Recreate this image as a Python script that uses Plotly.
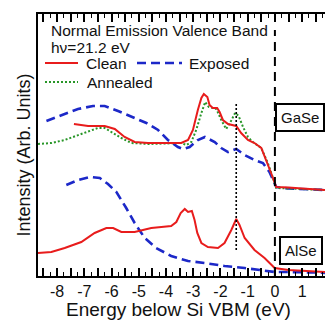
import plotly.graph_objects as go

# ---------------- data (energy in eV, intensity in arb. units) ----------------
gase_clean_e = [-7.38, -6.86, -6.25, -5.88, -5.52, -5.15, -4.66, -3.44, -3.19, -3.01, -2.83, -2.70, -2.61,
                -2.48, -2.40, -2.28, -2.12, -2.03, -1.91, -1.72, -1.42, -1.24, -0.99, -0.75, -0.50, -0.32,
                -0.14, 0.05, 0.12, 0.5, 1.0, 1.5, 1.84]
gase_clean_i = [152, 150, 150, 147, 139, 134, 133, 133, 136, 146, 166, 178, 182,
                179, 171, 168, 168, 164, 156, 152, 150, 143, 136, 133, 128, 116,
                103, 89, 89, 88.5, 87.5, 87, 86]

gase_annealed_e = [-8.70, -8.21, -7.72, -7.23, -6.86, -6.50, -6.25, -6.01, -5.64, -5.27, -4.66, -3.44,
                   -3.25, -3.07, -2.89, -2.70, -2.56, -2.43, -2.31, -2.15, -1.97, -1.79, -1.63, -1.46,
                   -1.33, -1.17, -0.99, -0.81, -0.50, -0.26, -0.07, 0.05, 0.5, 1.0, 1.5, 1.84]
gase_annealed_i = [132, 133, 136, 141, 144, 148, 148, 144, 138, 133, 132, 133,
                   131, 134, 146, 163, 174, 169, 168, 167, 156, 147, 154, 163,
                   160, 149, 139, 134, 128, 113, 98, 88, 87.5, 87, 86.5, 86]

gase_exposed_e = [-8.39, -7.84, -7.23, -6.68, -6.25, -5.76, -5.27, -4.72, -4.29, -3.93, -3.56, -3.38,
                  -3.13, -2.83, -2.57, -2.21, -1.97, -1.72, -1.42, -1.11, -0.75, -0.44, -0.20, 0.05,
                  0.5, 1.0, 1.5, 1.84]
gase_exposed_i = [155, 161, 167, 170, 170, 165, 159, 153, 146, 136, 129, 127,
                  129, 136, 139, 134, 128, 124, 127, 121, 116, 113, 104, 89,
                  87.5, 87, 86.5, 86]

alse_clean_e = [-8.70, -8.21, -7.72, -7.11, -6.62, -6.19, -5.94, -5.64, -5.15, -4.54, -4.17, -3.81,
                -3.62, -3.46, -3.31, -3.19, -3.05, -2.95, -2.85, -2.70, -2.46, -2.09, -1.85, -1.60,
                -1.42, -1.30, -1.11, -0.75, -0.38, -0.01, 0.5, 1.0, 1.5, 1.84]
alse_clean_i = [23, 24, 28, 34, 43, 48, 48, 44, 44, 48, 49, 50,
                54, 63, 67, 64, 65, 56, 43, 33, 29, 28, 33, 46,
                57, 51, 38, 26, 18, 8, 6, 5, 4.5, 4]

alse_exposed_e = [-7.66, -7.23, -6.80, -6.43, -6.13, -5.82, -5.46, -5.15, -4.78, -4.36, -3.81, -3.19,
                  -2.58, -1.85, -1.11, -0.38, 0.0, 0.5, 1.0, 1.5, 1.84]
alse_exposed_i = [91, 96, 99, 98, 92, 84, 68, 53, 38, 28, 20, 15,
                  13, 10, 8, 5, 4, 4, 4, 3.5, 3]

tick_vals = [-8.5, -8, -7.5, -7, -6.5, -6, -5.5, -5, -4.5, -4, -3.5, -3, -2.5, -2, -1.5, -1, -0.5, 0, 0.5, 1, 1.5]
tick_text = ["", "-8", "", "-7", "", "-6", "", "-5", "", "-4", "", "-3", "", "-2", "", "-1", "", "0", "", "1", ""]

vbm_energy = 0.0
marker_energy = -1.42
x_range = [-8.70, 1.84]
y_range = [0, 262]

# ---------------- styling ----------------
RED = "rgb(232,28,28)"
BLUE = "rgb(28,40,200)"
GREEN = "rgb(40,150,40)"
FONT = "Liberation Sans, Arial, sans-serif"
W, H = 325, 320
ML, MR, MT, MB = 38, 0, 14, 44
PW, PH = W - ML - MR, H - MT - MB


def px(x):
    return (x - ML) / PW


def py(y):
    return (H - MB - y) / PH


fig = go.Figure()
fig.add_trace(go.Scatter(x=gase_exposed_e, y=gase_exposed_i, mode="lines",
                         line=dict(color=BLUE, width=2.6, dash="9px,5px"), name="Exposed"))
fig.add_trace(go.Scatter(x=alse_exposed_e, y=alse_exposed_i, mode="lines",
                         line=dict(color=BLUE, width=2.6, dash="9px,5px"), name="Exposed"))
fig.add_trace(go.Scatter(x=gase_annealed_e, y=gase_annealed_i, mode="lines",
                         line=dict(color=GREEN, width=2, dash="2px,2px"), name="Annealed"))
fig.add_trace(go.Scatter(x=gase_clean_e, y=gase_clean_i, mode="lines",
                         line=dict(color=RED, width=2), name="Clean"))
fig.add_trace(go.Scatter(x=alse_clean_e, y=alse_clean_i, mode="lines",
                         line=dict(color=RED, width=2), name="Clean"))

# reference lines
fig.add_shape(type="line", x0=vbm_energy, x1=vbm_energy, y0=0, y1=246, xref="x", yref="y",
              line=dict(color="black", width=2, dash="9px,6px"))
fig.add_shape(type="line", x0=marker_energy, x1=marker_energy, y0=26, y1=174, xref="x", yref="y",
              line=dict(color="black", width=1.6, dash="2px,2px"))

# legend keys (manual)
fig.add_shape(type="line", xref="paper", yref="paper", x0=px(45), x1=px(78), y0=py(63), y1=py(63),
              line=dict(color=RED, width=2))
fig.add_shape(type="line", xref="paper", yref="paper", x0=px(137), x1=px(182), y0=py(63), y1=py(63),
              line=dict(color=BLUE, width=2.6, dash="9px,5px"))
fig.add_shape(type="line", xref="paper", yref="paper", x0=px(45), x1=px(78), y0=py(82), y1=py(82),
              line=dict(color=GREEN, width=2, dash="2px,2px"))

txt = dict(family=FONT, size=15.5, color="#111")
annos = [
    dict(text="Normal Emission Valence Band", x=px(49), y=py(30)),
    dict(text="hν=21.2 eV", x=px(49), y=py(47)),
    dict(text="Clean", x=px(84), y=py(64)),
    dict(text="Exposed", x=px(187), y=py(64)),
    dict(text="Annealed", x=px(85), y=py(82)),
]
for a in annos:
    fig.add_annotation(xref="paper", yref="paper", xanchor="left", yanchor="middle",
                       showarrow=False, font=txt, **a)

for label, cx, cy in [("GaSe", 300, 117.5), ("AlSe", 301, 250.5)]:
    fig.add_annotation(xref="paper", yref="paper", x=px(cx), y=py(cy), text=label,
                       xanchor="center", yanchor="middle", showarrow=False,
                       font=dict(family=FONT, size=15, color="#111"),
                       bordercolor="black", borderwidth=2, borderpad=4, bgcolor="white")

fig.add_annotation(xref="paper", yref="paper", x=px(178), y=py(309.5), text="Energy below Si VBM (eV)",
                   xanchor="center", yanchor="middle", showarrow=False,
                   font=dict(family=FONT, size=19, color="#111"))
fig.add_annotation(xref="paper", yref="paper", x=px(23), y=py(155.5), text="Intensity (Arb. Units)",
                   textangle=-90, xanchor="center", yanchor="middle", showarrow=False,
                   font=dict(family=FONT, size=18, color="#111"))

fig.update_layout(
    width=W, height=H, margin=dict(l=ML, r=MR, t=MT, b=MB),
    paper_bgcolor="white", plot_bgcolor="white", showlegend=False,
    xaxis=dict(range=x_range, tickmode="array", tickvals=tick_vals, ticktext=tick_text,
               ticks="inside", ticklen=8, tickwidth=1.5, tickcolor="black",
               minor=dict(ticks="inside", ticklen=4, tickwidth=1.2, dtick=0.25, tick0=0, tickcolor="black"),
               showline=True, linecolor="black", linewidth=2, mirror="ticks",
               showgrid=False, zeroline=False,
               tickfont=dict(family=FONT, size=16, color="#111")),
    yaxis=dict(range=y_range, showticklabels=False, ticks="", showline=True, linecolor="black",
               linewidth=2, mirror=False, showgrid=False, zeroline=False),
)

fig.write_html("out.html", config={"displayModeBar": False},
               post_script="document.body.style.margin='0';document.body.style.overflow='hidden';")
